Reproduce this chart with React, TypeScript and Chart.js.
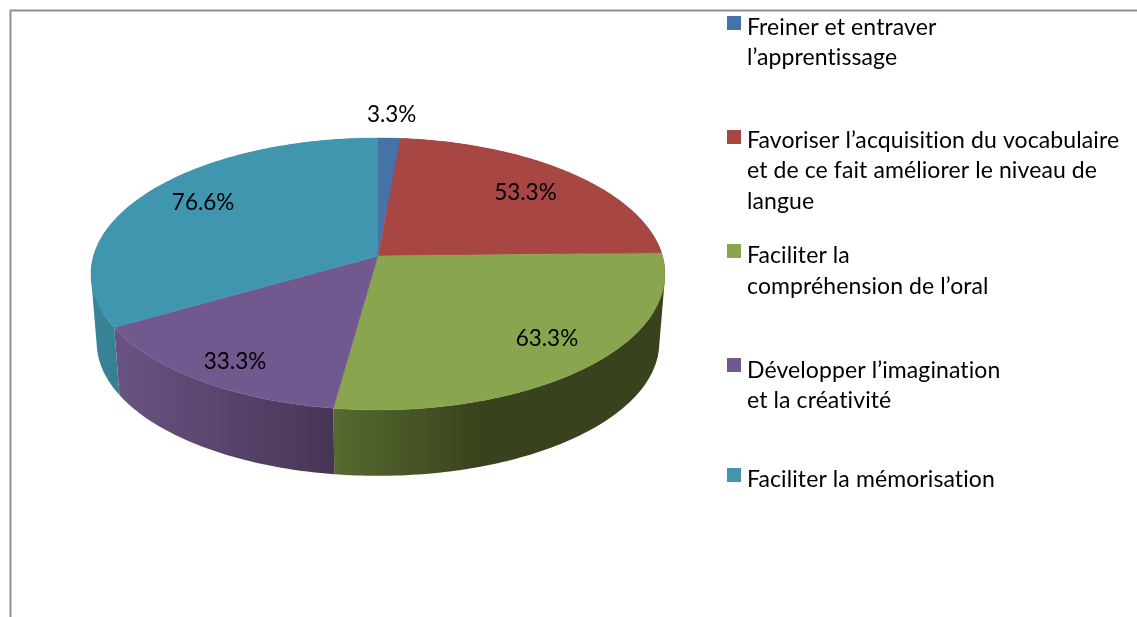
import React, { useEffect, useRef } from "react";
import { Chart, registerables } from "chart.js";

Chart.register(...registerables);

const categories = [
  "Freiner et entraver l’apprentissage",
  "Favoriser l’acquisition du vocabulaire et de ce fait améliorer le niveau de langue",
  "Faciliter la compréhension de l’oral",
  "Développer l’imagination et la créativité",
  "Faciliter la mémorisation",
];
const values = [3.3, 53.3, 63.3, 33.3, 76.6];
const legendLines = [
  ["Freiner et entraver", "l’apprentissage"],
  ["Favoriser l’acquisition du vocabulaire", "et de ce fait améliorer le niveau de", "langue"],
  ["Faciliter la", "compréhension de l’oral"],
  ["Développer l’imagination", "et la créativité"],
  ["Faciliter la mémorisation"],
];
const topColors = ["#4572a7", "#a84644", "#89a54e", "#71588f", "#4096ae"];
const sideStops = [
  ["#34557d", "#34557d"],
  ["#7a3331", "#5a2524"],
  ["#566a30", "#38421c"],
  ["#6a5381", "#473556"],
  ["#3a8499", "#377f93"],
];
const sideRange = [
  [378, 400],
  [400, 660],
  [333, 482],
  [118, 333],
  [95, 118],
];
const labelRadius = [1.237, 0.758, 0.79, 0.845, 0.777];
const labelAngleShift = [0, 0, -2.3, -1.3, 3.3];
const legendSwatchY = [16, 130, 244, 358, 468];
const legendLineY = [
  [28, 58],
  [141, 171, 202],
  [256, 287],
  [371, 401],
  [480],
];

const FONT = "Lato, Carlito, sans-serif";
const TILT = 0.132;
const SCALE_X = 284.5 / 240;
const SCALE_Y = 133.6 / 240;

const project = (x: number, y: number, R: number, a: number, r = 1, shrink = 1, drop = 0) => {
  const u = Math.cos(a) * r;
  const v = Math.sin(a) * r;
  const d = 1 - TILT * v;
  return {
    x: x + (R * SCALE_X * shrink * u) / d,
    y: y + drop + (R * SCALE_Y * shrink * v) / d,
  };
};

const pie3d = {
  id: "pie3d",
  beforeDatasetsDraw(chart: any) {
    const { ctx } = chart;
    const arcs = chart.getDatasetMeta(0).data;
    const STEP = Math.PI / 180;
    const SHRINK = 0.98;
    const DROP = 69;

    arcs.forEach((arc: any, i: number) => {
      const { x, y, outerRadius: R, startAngle, endAngle } = arc;
      const g = ctx.createLinearGradient(sideRange[i][0], 0, sideRange[i][1], 0);
      g.addColorStop(0, sideStops[i][0]);
      g.addColorStop(1, sideStops[i][1]);
      ctx.save();
      ctx.fillStyle = g;
      const n = Math.max(2, Math.ceil((endAngle - startAngle) / STEP));
      ctx.beginPath();
      for (let k = 0; k < n; k++) {
        const a0 = startAngle + ((endAngle - startAngle) * k) / n;
        const a1 = startAngle + ((endAngle - startAngle) * (k + 1)) / n;
        let quad = [
          project(x, y, R, a0),
          project(x, y, R, a1),
          project(x, y, R, a1, 1, SHRINK, DROP),
          project(x, y, R, a0, 1, SHRINK, DROP),
        ];
        // Same winding for every quad, so that the union fills without seams.
        let area = 0;
        quad.forEach((p, j) => {
          const q = quad[(j + 1) % 4];
          area += p.x * q.y - q.x * p.y;
        });
        if (area < 0) quad = quad.reverse();
        quad.forEach((p, j) => (j === 0 ? ctx.moveTo(p.x, p.y) : ctx.lineTo(p.x, p.y)));
        ctx.closePath();
      }
      ctx.fill();
      ctx.restore();
    });

    arcs.forEach((arc: any, i: number) => {
      const { x, y, outerRadius: R, startAngle, endAngle } = arc;
      ctx.save();
      ctx.fillStyle = topColors[i];
      ctx.strokeStyle = topColors[i];
      ctx.lineWidth = 0.4;
      ctx.beginPath();
      ctx.moveTo(x, y);
      const n = Math.max(2, Math.ceil((endAngle - startAngle) / STEP));
      for (let k = 0; k <= n; k++) {
        const a = startAngle + ((endAngle - startAngle) * k) / n;
        const p = project(x, y, R, a);
        ctx.lineTo(p.x, p.y);
      }
      ctx.closePath();
      ctx.fill();
      ctx.stroke();
      ctx.restore();
    });
    return false;
  },
  afterDraw(chart: any) {
    const { ctx, width, height } = chart;
    const arcs = chart.getDatasetMeta(0).data;
    ctx.save();

    ctx.strokeStyle = "#8e8e8e";
    ctx.lineWidth = 2;
    ctx.beginPath();
    ctx.moveTo(width, 10.5);
    ctx.lineTo(10.5, 10.5);
    ctx.lineTo(10.5, height);
    ctx.stroke();

    ctx.fillStyle = "#000";
    ctx.font = `22.5px ${FONT}`;
    ctx.textAlign = "center";
    ctx.textBaseline = "middle";
    arcs.forEach((arc: any, i: number) => {
      const mid = (arc.startAngle + arc.endAngle) / 2 + (labelAngleShift[i] * Math.PI) / 180;
      const p = project(arc.x, arc.y, arc.outerRadius, mid, labelRadius[i]);
      ctx.fillText(`${values[i]}%`, p.x, p.y + 1);
    });

    ctx.textAlign = "left";
    ctx.font = `23px ${FONT}`;
    ctx.letterSpacing = "0.1px";
    legendLines.forEach((lines, i) => {
      ctx.fillStyle = topColors[i];
      ctx.fillRect(727, legendSwatchY[i], 14, 14);
      ctx.fillStyle = "#000";
      lines.forEach((line, j) => ctx.fillText(line, 747, legendLineY[i][j]));
    });
    ctx.restore();
  },
};

export default function App() {
  const ref = useRef<HTMLCanvasElement>(null);
  useEffect(() => {
    document.body.style.margin = "0";
    document.body.style.overflow = "hidden";
    const chart = new Chart(ref.current as HTMLCanvasElement, {
      type: "pie",
      data: {
        labels: categories,
        datasets: [{ data: values, backgroundColor: topColors, borderWidth: 0 }],
      },
      options: {
        responsive: false,
        animation: false,
        layout: { padding: { left: 138, right: 519, top: 16, bottom: 121 } },
        plugins: { legend: { display: false }, tooltip: { enabled: false } },
      },
      plugins: [pie3d],
    } as any);
    return () => chart.destroy();
  }, []);
  return (
    <canvas
      ref={ref}
      width={1137}
      height={617}
      style={{ display: "block", width: 1137, height: 617, background: "#fff" }}
    />
  );
}
